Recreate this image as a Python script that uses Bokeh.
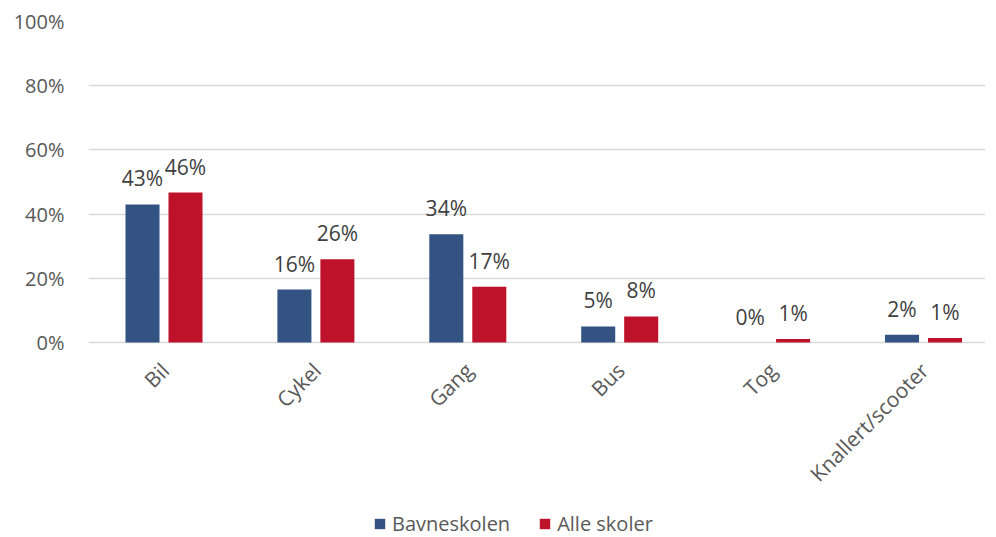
import math
from bokeh.plotting import figure
from bokeh.models import ColumnDataSource, NumeralTickFormatter, Legend, LegendItem, FixedTicker, Range1d
from bokeh.transform import dodge
from bokeh.core.properties import value
from bokeh.embed import file_html
from bokeh.resources import INLINE

categories = ["Bil", "Cykel", "Gang", "Bus", "Tog", "Knallert/scooter"]
bavneskolen = [0.43, 0.165, 0.337, 0.05, 0.0, 0.024]
alle_skoler = [0.467, 0.259, 0.174, 0.081, 0.011, 0.014]
bav_labels = ["43%", "16%", "34%", "5%", "0%", "2%"]
alle_labels = ["46%", "26%", "17%", "8%", "1%", "1%"]
y_ticks = [0, 0.2, 0.4, 0.6, 0.8, 1.0]

BLUE = "#335482"
RED = "#be122a"
FONT = "Open Sans"

# layout: the value axis spans 321px; the frame extends below it to hold
# the category labels and the legend
PLOT_H = 321
FRAME_H = 516
FRAME_W = 897
CAT_PX = 151.9
y_start = -(FRAME_H - PLOT_H) / PLOT_H
x_start = -75.5 / CAT_PX
x_end = x_start + FRAME_W / CAT_PX

src = ColumnDataSource(dict(idx=list(range(len(categories))), cat=categories,
                            bav=bavneskolen, alle=alle_skoler,
                            bl=bav_labels, al=alle_labels,
                            base=[0.0] * len(categories)))

p = figure(x_range=Range1d(x_start, x_end), y_range=Range1d(y_start, 1.0),
           frame_width=FRAME_W, frame_height=FRAME_H,
           output_backend="svg", toolbar_location=None,
           min_border_left=88, min_border_right=3, min_border_top=21, min_border_bottom=0)
p.outline_line_color = None

rb = p.vbar(x=dodge("idx", -0.1415), top="bav", width=0.224, source=src,
            fill_color=BLUE, line_color=None)
rr = p.vbar(x=dodge("idx", 0.1415), top="alle", width=0.224, source=src,
            fill_color=RED, line_color=None)

p.text(x=dodge("idx", -0.1415), y="bav", text="bl", source=src,
       text_align="center", text_baseline="middle", y_offset=-26,
       text_font=value(FONT), text_font_size="21px", text_color="#404040")
p.text(x=dodge("idx", 0.1415), y="alle", text="al", source=src,
       text_align="center", text_baseline="middle", y_offset=-26,
       text_font=value(FONT), text_font_size="21px", text_color="#404040")

# category labels (rotated 45 degrees) below the baseline
p.text(x="idx", y="base", text="cat", source=src, angle=math.pi / 4,
       text_align="right", text_baseline="middle", x_offset=1, y_offset=24,
       text_font=value(FONT), text_font_size="21px", text_color="#595959")

p.xaxis.visible = False

p.yaxis.ticker = FixedTicker(ticks=y_ticks)
p.yaxis.formatter = NumeralTickFormatter(format="0%")
p.yaxis.axis_line_color = None
p.yaxis.major_tick_line_color = None
p.yaxis.minor_tick_line_color = None
p.yaxis.major_label_text_font = FONT
p.yaxis.major_label_text_font_size = "20px"
p.yaxis.major_label_text_color = "#595959"
p.yaxis.major_label_standoff = 18

p.xgrid.grid_line_color = None
p.ygrid.ticker = FixedTicker(ticks=y_ticks)
p.ygrid.grid_line_color = "#d9d9d9"
p.ygrid.grid_line_width = 1.5

legend = Legend(items=[LegendItem(label="Bavneskolen", renderers=[rb]),
                       LegendItem(label="Alle skoler", renderers=[rr])],
                orientation="horizontal", location=(285, 0),
                label_text_font=FONT, label_text_font_size="20px",
                label_text_color="#595959", glyph_width=13, glyph_height=13,
                border_line_color=None, background_fill_alpha=0,
                spacing=28, label_standoff=6, margin=0, padding=0)
p.add_layout(legend, "center")

open("out.html", "w").write(file_html(p, INLINE))
